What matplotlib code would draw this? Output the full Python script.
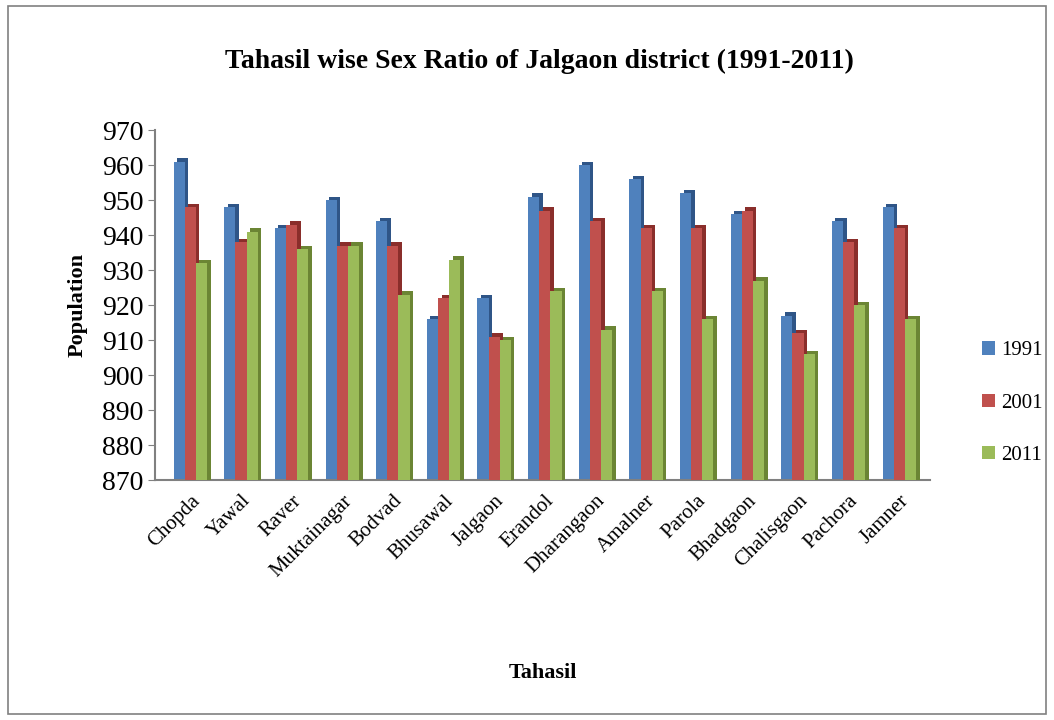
import numpy as np
import matplotlib.pyplot as plt
from matplotlib.patches import Rectangle

# tahasil names and sex ratio for the three census years
tahasils = ['Chopda', 'Yawal', 'Raver', 'Muktainagar', 'Bodvad', 'Bhusawal',
            'Jalgaon', 'Erandol', 'Dharangaon', 'Amalner', 'Parola',
            'Bhadgaon', 'Chalisgaon', 'Pachora', 'Jamner']
r1991 = [961, 948, 942, 950, 944, 916, 922, 951, 960, 956, 952, 946, 917, 944, 948]
r2001 = [948, 938, 943, 937, 937, 922, 911, 947, 944, 942, 942, 947, 912, 938, 942]
r2011 = [932, 941, 936, 937, 923, 933, 910, 924, 913, 924, 916, 927, 906, 920, 916]
years = ['1991', '2001', '2011']

plt.rcParams['font.family'] = ['Liberation Serif', 'DejaVu Serif']

fig = plt.figure(figsize=(10.54, 7.2), dpi=100)
ax = fig.add_axes([0.147, 0.333, 0.735, 0.486])

x = np.arange(len(tahasils))
w = 0.22
faces = ['#4F81BD', '#C0504D', '#9BBB59']
sides = ['#2F5587', '#8A2E2B', '#6B8534']
dx, dy = 0.07, 1.0   # fake depth of the 3d bars

for i, (vals, yr) in enumerate(zip([r1991, r2001, r2011], years)):
    pos = x + (i - 1) * w
    vals = np.array(vals)
    # darker side/top shifted back to look like the excel 3d column
    ax.bar(pos + dx, vals - 870 + dy, w, bottom=870, color=sides[i], zorder=2 + i)
    ax.bar(pos, vals - 870, w, bottom=870, color=faces[i], label=yr, zorder=2 + i)

ax.set_xlim(-0.7, len(tahasils) - 0.4)
ax.set_ylim(870, 970)
ax.set_yticks(np.arange(870, 971, 10))
ax.tick_params(axis='y', labelsize=20, colors='#808080', labelcolor='black',
               length=5, direction='out')
ax.set_xticks(x)
ax.set_xticklabels(tahasils, rotation=45, ha='right', rotation_mode='anchor',
                   fontsize=15)
ax.tick_params(axis='x', length=0, pad=8)

for s in ['top', 'right']:
    ax.spines[s].set_visible(False)
ax.spines['left'].set_color('#808080')
ax.spines['bottom'].set_color('#808080')
ax.spines['left'].set_linewidth(1.5)
ax.spines['bottom'].set_linewidth(1.5)

ax.set_ylabel('Population', fontsize=16, fontweight='bold', labelpad=10)
fig.text(0.515, 0.058, 'Tahasil', ha='center', fontsize=16, fontweight='bold')
fig.text(0.512, 0.905, 'Tahasil wise Sex Ratio of Jalgaon district (1991-2011)',
         ha='center', fontsize=20, fontweight='bold')

ax.legend(loc='center left', bbox_to_anchor=(1.044, 0.22), frameon=False,
          fontsize=15, handlelength=0.6, handleheight=0.6, labelspacing=1.6,
          handletextpad=0.3)

fig.patches.append(Rectangle((0.008, 0.008), 0.984, 0.984, transform=fig.transFigure,
                             fill=False, edgecolor='#808080', linewidth=1.2))

fig.savefig('out.png', dpi=100)
